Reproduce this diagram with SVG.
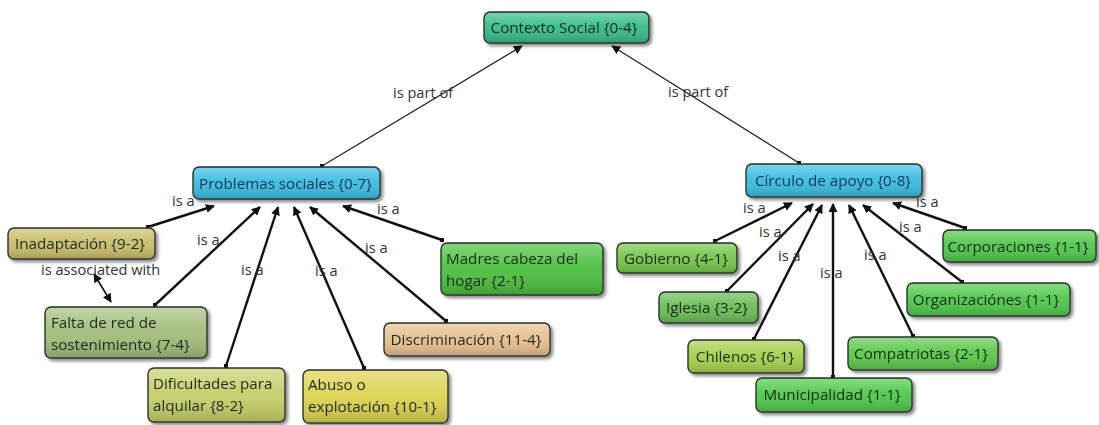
<svg xmlns="http://www.w3.org/2000/svg" width="1099" height="425" viewBox="0 0 1099 425">
  <style>
    .box { stroke: #2b332b; stroke-width: 1.4; }
    .gloss { fill: url(#gloss); stroke: none; }
    .t { font-family: "Open Sans", "DejaVu Sans", sans-serif; font-size: 15.2px; fill: #1f2a1f; }
    .tb { fill: #1d3550; }
    .lbl { font-family: "Open Sans", "DejaVu Sans", sans-serif; font-size: 14.6px; fill: #333; }
    .link { stroke: #111; stroke-width: 2.4; fill: none; marker-end: url(#arr); marker-start: url(#dot); }
    .thin { stroke: #222; stroke-width: 1.3; fill: none; marker-end: url(#arr); marker-start: url(#dot); }
  </style>
  <defs>
    <linearGradient id="gloss" x1="0" y1="0" x2="0" y2="1">
      <stop offset="0" stop-color="#fff" stop-opacity="0.32"/>
      <stop offset="0.45" stop-color="#fff" stop-opacity="0.04"/>
      <stop offset="1" stop-color="#000" stop-opacity="0.16"/>
    </linearGradient>
    <filter id="sh" x="-10%" y="-20%" width="130%" height="160%">
      <feDropShadow dx="2.5" dy="2.5" stdDeviation="1.5" flood-color="#000" flood-opacity="0.45"/>
    </filter>
    <marker id="arr" viewBox="0 0 10 10" refX="9" refY="5" markerWidth="9" markerHeight="9" markerUnits="userSpaceOnUse" orient="auto">
      <path d="M0,0 L10,5 L0,10 z" fill="#111"/>
    </marker>
    <marker id="arrs" viewBox="0 0 10 10" refX="1" refY="5" markerWidth="9" markerHeight="9" markerUnits="userSpaceOnUse" orient="auto">
      <path d="M10,0 L0,5 L10,10 z" fill="#111"/>
    </marker>
    <marker id="dot" viewBox="0 0 4 4" refX="2" refY="2" markerWidth="4" markerHeight="4" markerUnits="userSpaceOnUse">
      <rect width="4" height="4" fill="#111"/>
    </marker>
  </defs>
  <rect width="1099" height="425" fill="#fff"/>

  <!-- connectors -->
  <g id="connectors">
    <line class="thin" x1="322" y1="166" x2="522" y2="46"/>
    <line class="thin" x1="799" y1="163" x2="612" y2="46"/>

    <line class="link" x1="148" y1="227" x2="214" y2="206"/>
    <line class="link" x1="155" y1="305" x2="260" y2="207"/>
    <line class="link" x1="226" y1="366" x2="278" y2="207"/>
    <line class="link" x1="364" y1="368" x2="294" y2="207"/>
    <line class="link" x1="446" y1="321" x2="310" y2="207"/>
    <line class="link" x1="442" y1="240" x2="343" y2="206"/>
    <line x1="94" y1="274" x2="111" y2="302" stroke="#111" stroke-width="1.6" marker-start="url(#arrs)" marker-end="url(#arr)"/>

    <line class="link" x1="715" y1="241" x2="792" y2="203"/>
    <line class="link" x1="727" y1="291" x2="813" y2="204"/>
    <line class="link" x1="754" y1="339" x2="822" y2="205"/>
    <line class="link" x1="833" y1="377" x2="833" y2="204"/>
    <line class="link" x1="913" y1="336" x2="849" y2="205"/>
    <line class="link" x1="962" y1="282" x2="863" y2="205"/>
    <line class="link" x1="965" y1="228" x2="893" y2="203"/>

    <g class="lbl">
      <text x="393" y="98">is part of</text>
      <text x="668" y="97">is part of</text>
      <text x="172" y="206">is a</text>
      <text x="197" y="245">is a</text>
      <text x="241" y="275">is a</text>
      <text x="315" y="276">is a</text>
      <text x="365" y="253">is a</text>
      <text x="377" y="214">is a</text>
      <text x="41" y="275">is associated with</text>
      <text x="743" y="213">is a</text>
      <text x="759" y="237">is a</text>
      <text x="778" y="261">is a</text>
      <text x="820" y="278">is a</text>
      <text x="864" y="260">is a</text>
      <text x="899" y="232">is a</text>
      <text x="916" y="207">is a</text>
    </g>
  </g>

  <!-- top concept -->
  <g id="contexto-social" filter="url(#sh)">
    <rect class="box" x="484" y="12" width="165" height="31" rx="6" fill="#38bd88"/>
    <rect class="gloss" x="485" y="13" width="163" height="29" rx="5"/>
    <text class="t" x="564" y="33" text-anchor="middle">Contexto Social {0-4}</text>
  </g>

  <!-- Problemas sociales branch -->
  <g id="problemas-sociales" filter="url(#sh)">
    <rect class="box" x="193" y="167" width="187" height="32" rx="6" fill="#3bbde2"/>
    <rect class="gloss" x="194" y="168" width="185" height="30" rx="5"/>
    <text class="t tb" x="285.5" y="188.5" text-anchor="middle">Problemas sociales {0-7}</text>
  </g>
  <g id="inadaptacion" filter="url(#sh)">
    <rect class="box" x="8" y="228" width="147" height="31" rx="6" fill="#c8be6c"/>
    <rect class="gloss" x="9" y="229" width="145" height="29" rx="5"/>
    <text class="t" x="80" y="249" text-anchor="middle">Inadaptación {9-2}</text>
  </g>
  <g id="falta-red" filter="url(#sh)">
    <rect class="box" x="45" y="307" width="162" height="51" rx="6" fill="#a4be7c"/>
    <rect class="gloss" x="46" y="308" width="160" height="49" rx="5"/>
    <text class="t" x="51" y="328">Falta de red de</text>
    <text class="t" x="51" y="350">sostenimiento {7-4}</text>
  </g>
  <g id="dificultades" filter="url(#sh)">
    <rect class="box" x="148" y="368" width="137" height="54" rx="6" fill="#c6cf6a"/>
    <rect class="gloss" x="149" y="369" width="135" height="52" rx="5"/>
    <text class="t" x="153" y="389">Dificultades para</text>
    <text class="t" x="153" y="411">alquilar {8-2}</text>
  </g>
  <g id="abuso" filter="url(#sh)">
    <rect class="box" x="303" y="370" width="145" height="53" rx="6" fill="#dcd350"/>
    <rect class="gloss" x="304" y="371" width="143" height="51" rx="5"/>
    <text class="t" x="308" y="390">Abuso o</text>
    <text class="t" x="308" y="412">explotación {10-1}</text>
  </g>
  <g id="discriminacion" filter="url(#sh)">
    <rect class="box" x="384" y="323" width="166" height="33" rx="6" fill="#e6bf90"/>
    <rect class="gloss" x="385" y="324" width="164" height="31" rx="5"/>
    <text class="t" x="466" y="345" text-anchor="middle">Discriminación {11-4}</text>
  </g>
  <g id="madres" filter="url(#sh)">
    <rect class="box" x="441" y="243" width="162" height="52" rx="6" fill="#4dc040"/>
    <rect class="gloss" x="442" y="244" width="160" height="50" rx="5"/>
    <text class="t" x="446" y="264">Madres cabeza del</text>
    <text class="t" x="446" y="286">hogar {2-1}</text>
  </g>

  <!-- Círculo de apoyo branch -->
  <g id="circulo-apoyo" filter="url(#sh)">
    <rect class="box" x="746" y="164" width="176" height="33" rx="6" fill="#3bbde2"/>
    <rect class="gloss" x="747" y="165" width="174" height="31" rx="5"/>
    <text class="t tb" x="833" y="186" text-anchor="middle">Círculo de apoyo {0-8}</text>
  </g>
  <g id="gobierno" filter="url(#sh)">
    <rect class="box" x="617" y="243" width="120" height="30" rx="6" fill="#76c64c"/>
    <rect class="gloss" x="618" y="244" width="118" height="28" rx="5"/>
    <text class="t" x="676" y="263.5" text-anchor="middle">Gobierno {4-1}</text>
  </g>
  <g id="corporaciones" filter="url(#sh)">
    <rect class="box" x="943" y="230" width="153" height="32" rx="6" fill="#50c84c"/>
    <rect class="gloss" x="944" y="231" width="151" height="30" rx="5"/>
    <text class="t" x="1018" y="251.5" text-anchor="middle">Corporaciones {1-1}</text>
  </g>
  <g id="iglesia" filter="url(#sh)">
    <rect class="box" x="659" y="292" width="99" height="31" rx="6" fill="#6cbd58"/>
    <rect class="gloss" x="660" y="293" width="97" height="29" rx="5"/>
    <text class="t" x="707" y="313" text-anchor="middle">Iglesia {3-2}</text>
  </g>
  <g id="chilenos" filter="url(#sh)">
    <rect class="box" x="688" y="340" width="116" height="33" rx="6" fill="#a4d04e"/>
    <rect class="gloss" x="689" y="341" width="114" height="31" rx="5"/>
    <text class="t" x="745" y="361.5" text-anchor="middle">Chilenos {6-1}</text>
  </g>
  <g id="municipalidad" filter="url(#sh)">
    <rect class="box" x="756" y="378" width="156" height="34" rx="6" fill="#50c84c"/>
    <rect class="gloss" x="757" y="379" width="154" height="32" rx="5"/>
    <text class="t" x="832" y="400" text-anchor="middle">Municipalidad {1-1}</text>
  </g>
  <g id="compatriotas" filter="url(#sh)">
    <rect class="box" x="848" y="337" width="150" height="33" rx="6" fill="#5cc94c"/>
    <rect class="gloss" x="849" y="338" width="148" height="31" rx="5"/>
    <text class="t" x="921" y="358.5" text-anchor="middle">Compatriotas {2-1}</text>
  </g>
  <g id="organizaciones" filter="url(#sh)">
    <rect class="box" x="907" y="283" width="163" height="33" rx="6" fill="#50c84c"/>
    <rect class="gloss" x="908" y="284" width="161" height="31" rx="5"/>
    <text class="t" x="986" y="304.5" text-anchor="middle">Organizaciónes {1-1}</text>
  </g>
</svg>
